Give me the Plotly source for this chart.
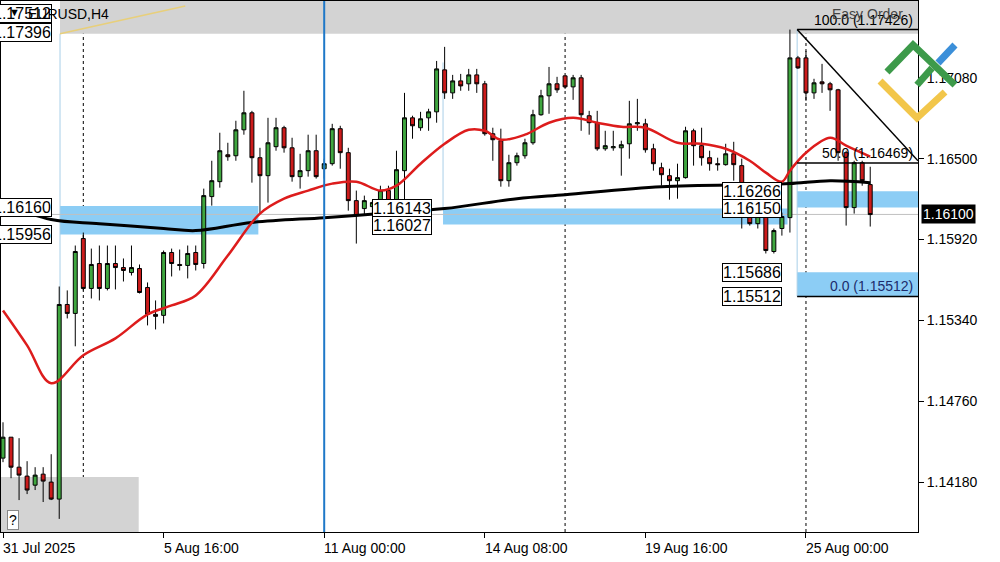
import plotly.graph_objects as go

# ---------------- data ----------------
opens = [1.14352,1.14502,1.14287,1.14223,1.14158,1.14237,1.14180,1.14058,1.15454,1.15390,
         1.15927,1.15569,1.15748,1.15569,1.15748,1.15719,1.15683,1.15712,1.15576,1.15383,
         1.15376,1.15827,1.15741,1.15734,1.15827,1.15748,1.16228,1.16335,1.16528,1.16521,
         1.16707,1.16829,1.16507,1.16378,1.16586,1.16722,1.16578,1.16371,1.16414,1.16557,
         1.16428,1.16464,1.16715,1.16543,1.16199,1.16142,1.16156,1.16149,1.16271,1.16149,
         1.16414,1.16793,1.16722,1.16793,1.16836,1.17137,1.16972,1.17058,1.17037,1.17101,
         1.17037,1.16679,1.16629,1.16342,1.16471,1.16521,1.16614,1.16815,1.16951,1.17037,
         1.17094,1.17015,1.17080,1.16808,1.16758,1.16571,1.16578,1.16578,1.16607,1.16750,
         1.16750,1.16571,1.16435,1.16378,1.16342,1.16364,1.16700,1.16593,1.16507,1.16464,
         1.16457,1.16535,1.16450,1.16113,1.16034,1.16106,1.15834,1.15999,1.16077,1.17223,
         1.17223,1.16972,1.17051,1.17037,1.16994,1.16543,1.16149,1.16471,1.16314]
highs = [1.14609,1.14502,1.14495,1.14330,1.14287,1.14287,1.14380,1.15583,1.15555,1.15877,
         1.15970,1.15855,1.15877,1.15877,1.15877,1.15784,1.15877,1.15741,1.15612,1.15483,
         1.15841,1.15855,1.15848,1.15877,1.15877,1.16285,1.16485,1.16686,1.16614,1.16772,
         1.16987,1.16843,1.16578,1.16793,1.16793,1.16736,1.16650,1.16535,1.16672,1.16672,
         1.16500,1.16750,1.16736,1.16578,1.16271,1.16235,1.16199,1.16306,1.16306,1.16557,
         1.16972,1.16808,1.16836,1.16858,1.17201,1.17302,1.17101,1.17108,1.17144,1.17144,
         1.17058,1.16722,1.16715,1.16528,1.16543,1.16643,1.16851,1.16994,1.17158,1.17087,
         1.17094,1.17101,1.17101,1.16843,1.16843,1.16700,1.16700,1.16629,1.16915,1.16929,
         1.16786,1.16607,1.16471,1.16428,1.16464,1.16729,1.16715,1.16722,1.16557,1.16507,
         1.16607,1.16621,1.16500,1.16142,1.16163,1.16113,1.15999,1.16113,1.17426,1.17237,
         1.17273,1.17073,1.17180,1.17051,1.17001,1.16557,1.16485,1.16485,1.16442]
lows = [1.14323,1.14208,1.14051,1.14094,1.14123,1.14037,1.14051,1.13916,1.15354,1.15154,
        1.15555,1.15497,1.15483,1.15555,1.15562,1.15619,1.15662,1.15533,1.15304,1.15275,
        1.15318,1.15655,1.15698,1.15641,1.15698,1.15712,1.16163,1.16292,1.16485,1.16485,
        1.16672,1.16328,1.16106,1.16185,1.16557,1.16543,1.16335,1.16285,1.16371,1.16357,
        1.16357,1.16450,1.16428,1.16127,1.15891,1.16092,1.16092,1.16127,1.16092,1.16127,
        1.16199,1.16643,1.16700,1.16700,1.16758,1.16929,1.16929,1.16987,1.16987,1.16972,
        1.16665,1.16485,1.16299,1.16299,1.16450,1.16500,1.16600,1.16808,1.16822,1.16972,
        1.17001,1.16922,1.16700,1.16672,1.16557,1.16557,1.16557,1.16378,1.16500,1.16700,
        1.16543,1.16414,1.16306,1.16206,1.16213,1.16357,1.16450,1.16450,1.16414,1.16414,
        1.16450,1.16342,1.15999,1.16020,1.15999,1.15820,1.15820,1.15948,1.15970,1.17144,
        1.16915,1.16929,1.16972,1.16843,1.16485,1.16020,1.16106,1.16306,1.16013]
closes = [1.14502,1.14287,1.14230,1.14123,1.14230,1.14187,1.14058,1.15454,1.15390,1.15834,
          1.15569,1.15741,1.15569,1.15748,1.15719,1.15698,1.15719,1.15540,1.15383,1.15369,
          1.15827,1.15748,1.15734,1.15820,1.15741,1.16235,1.16342,1.16557,1.16514,1.16707,
          1.16829,1.16507,1.16378,1.16614,1.16722,1.16578,1.16371,1.16414,1.16557,1.16371,
          1.16464,1.16715,1.16543,1.16199,1.16092,1.16199,1.16185,1.16271,1.16142,1.16421,
          1.16793,1.16736,1.16786,1.16836,1.17144,1.16972,1.17058,1.17022,1.17101,1.17037,
          1.16679,1.16636,1.16342,1.16471,1.16521,1.16614,1.16815,1.16951,1.17037,1.16994,
          1.17015,1.17080,1.16815,1.16758,1.16571,1.16593,1.16586,1.16600,1.16750,1.16758,
          1.16564,1.16464,1.16385,1.16342,1.16364,1.16700,1.16593,1.16507,1.16464,1.16457,
          1.16535,1.16457,1.16113,1.16034,1.16142,1.15841,1.15984,1.16085,1.17223,1.17151,
          1.16972,1.17044,1.17037,1.16994,1.16543,1.16149,1.16471,1.16342,1.16099]
bars = list(range(len(opens)))

ma_fast_idx = [0,3,6,10,14,18,21,24,28,32,35,38,41,44,47,49,52,55,58,60,62,65,68,71,74,77,80,84,87,90,93,95,97,98,100,103,105,108]
ma_fast_val = [1.15411,1.15161,1.14889,1.15090,1.15211,1.15383,1.15447,1.15519,1.15805,1.16106,1.16213,1.16271,
               1.16321,1.16335,1.16271,1.16306,1.16464,1.16607,1.16707,1.16700,1.16636,1.16672,1.16758,1.16793,
               1.16758,1.16729,1.16722,1.16614,1.16607,1.16571,1.16485,1.16400,1.16335,1.16414,1.16543,1.16650,
               1.16593,1.16514]
ma_slow_idx = [-0.3,6,12,20,24,31,40,47,55,64,70,82,94,98,103,108]
ma_slow_val = [1.16185,1.16063,1.16034,1.15999,1.15984,1.16042,1.16077,1.16106,1.16142,1.16213,1.16242,
               1.16299,1.16314,1.16321,1.16342,1.16328]

y_tickvals = [1.17080, 1.16500, 1.15920, 1.15340, 1.14760, 1.14180]
x_tickvals = [0, 20, 40, 60, 80, 100]
x_ticktext = ["31 Jul 2025", "5 Aug 16:00", "11 Aug 00:00", "14 Aug 08:00", "19 Aug 16:00", "25 Aug 00:00"]

fib_start = 98.9
fib_levels = [1.17426, 1.16469, 1.15512]
fib_text = ["100.0 (1.17426)", "50.0 (1.16469)", "0.0 (1.15512)"]
last_price = 1.16100

XMIN, XMAX = -0.25, 113.95
YMIN, YMAX = 1.13822, 1.17631
FONT = "Liberation Sans, Arial, sans-serif"

fig = go.Figure()
fig.add_trace(go.Candlestick(
    x=bars, open=opens, high=highs, low=lows, close=closes,
    increasing=dict(line=dict(color="black", width=1), fillcolor="#3fa63f"),
    decreasing=dict(line=dict(color="black", width=1), fillcolor="#cc1b1b"),
    whiskerwidth=0, showlegend=False, hoverinfo="skip"))
fig.add_trace(go.Scatter(x=ma_slow_idx, y=ma_slow_val, mode="lines", line=dict(color="black", width=3, shape="spline"), showlegend=False))
fig.add_trace(go.Scatter(x=ma_fast_idx, y=ma_fast_val, mode="lines", line=dict(color="#dd1c1c", width=2.5, shape="spline"), showlegend=False))

shapes = []
def rect(x0, x1, y0, y1, color, layer="below"):
    shapes.append(dict(type="rect", x0=x0, x1=x1, y0=y0, y1=y1, fillcolor=color, line=dict(width=0), layer=layer))
rect(7.1, XMAX, 1.17396, YMAX + 0.001, "#d3d3d3")
rect(XMIN, 16.9, YMIN - 0.001, 1.14216, "#d3d3d3")
blue = "#8ccdf5"
rect(7.1, 31.8, 1.15956, 1.16160, blue)
rect(54.8, 97.7, 1.16027, 1.16143, blue)
rect(fib_start, XMAX, 1.16150, 1.16266, blue)
rect(fib_start, XMAX, 1.15512, 1.15686, blue)
for xv, ya, yb in [(7.1, 1.17396, 1.14100), (54.8, 1.17190, 1.16143), (fib_start, 1.17426, 1.15512)]:
    shapes.append(dict(type="line", x0=xv, x1=xv, y0=ya, y1=yb, line=dict(color="#a9cfe8", width=1), layer="below"))
shapes.append(dict(type="line", x0=7.1, x1=22.7, y0=1.17396, y1=1.17595, line=dict(color="#e8cf7a", width=1.5)))
shapes.append(dict(type="line", x0=XMIN, x1=XMAX, y0=last_price, y1=last_price, line=dict(color="#c0c0c0", width=1), layer="below"))
for xv in [10, 70, 100]:
    shapes.append(dict(type="line", x0=xv, x1=xv, yref="paper", y0=0, y1=1, line=dict(color="black", width=1, dash="dot"), layer="below"))
shapes.append(dict(type="line", x0=40, x1=40, yref="paper", y0=0, y1=1, line=dict(color="#1f78c8", width=2)))
for lv in fib_levels:
    shapes.append(dict(type="line", x0=fib_start, x1=XMAX, y0=lv, y1=lv, line=dict(color="black", width=1.5)))
shapes.append(dict(type="line", x0=fib_start, x1=XMAX, y0=fib_levels[0], y1=1.16485, line=dict(color="black", width=1.5)))
def path(pts):
    return "M " + " L ".join(f"{a},{b}" for a, b in pts)
for pts, col in [([(0.9586, 0.8493), (0.9989, 0.7797), (1.0295, 0.8286)], "#f2c64a"),
                 ([(0.9662, 0.8663), (0.9946, 0.9171), (1.0403, 0.8418)], "#3d9a4a"),
                 ([(0.9989, 0.8418), (1.0153, 0.8738)], "#3d9a4a"),
                 ([(1.0218, 0.8832), (1.0403, 0.9171)], "#3b8fd9")]:
    shapes.append(dict(type="path", xref="paper", yref="paper", path=path(pts), line=dict(color=col, width=7)))

ann = []
def box(x, y, text, xanchor="center"):
    ann.append(dict(x=x, y=y, text=text, showarrow=False, xanchor=xanchor, yanchor="middle",
                    bgcolor="white", bordercolor="black", borderwidth=1, borderpad=0,
                    font=dict(family=FONT, size=16, color="black")))
box(49.7, 1.16142, "1.16143")
box(49.7, 1.16020, "1.16027")
box(93.3, 1.16264, "1.16266")
box(93.3, 1.16142, "1.16150")
box(93.3, 1.15683, "1.15686")
box(93.3, 1.15512, "1.15512")
box(6.1, 1.17538, "1.17512", "right")
box(6.1, 1.17402, "1.17396", "right")
box(6.1, 1.16149, "1.16160", "right")
box(6.1, 1.15956, "1.15956", "right")
for lv, t, c in zip(fib_levels, fib_text, ["black", "black", "#1c2c6c"]):
    ann.append(dict(x=XMAX, y=lv, text=t, showarrow=False, xanchor="right", yanchor="bottom", xshift=-3,
                    font=dict(family=FONT, size=14, color=c)))
ann.append(dict(xref="paper", yref="paper", x=0.945, y=0.995, text="Easy Order", showarrow=False,
                xanchor="center", yanchor="top", font=dict(family=FONT, size=14, color="#444")))
ann.append(dict(xref="paper", yref="paper", x=0.027, y=0.995, text="EURUSD,H4", showarrow=False,
                xanchor="left", yanchor="top", font=dict(family=FONT, size=14, color="black")))
ann.append(dict(xref="paper", yref="paper", x=0.006, y=0.995, text="▼", showarrow=False,
                xanchor="left", yanchor="top", font=dict(family=FONT, size=11, color="black")))
ann.append(dict(xref="paper", yref="paper", x=0.007, y=0.003, text="?", showarrow=False,
                xanchor="left", yanchor="bottom", bgcolor="white", bordercolor="#888", borderwidth=1,
                font=dict(family=FONT, size=14, color="black")))
for xv, t in zip(x_tickvals, x_ticktext):
    ann.append(dict(x=xv, xref="x", yref="paper", y=0, text=t, showarrow=False, xanchor="left",
                    yanchor="top", yshift=-6, xshift=-2, font=dict(family=FONT, size=14, color="black")))
ann.append(dict(xref="paper", x=1, y=last_price, text="1.16100", showarrow=False, xanchor="left", xshift=3,
                bgcolor="black", font=dict(family=FONT, size=14, color="white"), borderpad=1))

fig.update_layout(
    width=1000, height=562, autosize=False,
    margin=dict(l=1, r=82, t=1, b=30),
    paper_bgcolor="white", plot_bgcolor="white",
    shapes=shapes, annotations=ann,
    xaxis=dict(range=[XMIN, XMAX], showgrid=False, zeroline=False, rangeslider=dict(visible=False),
               tickvals=x_tickvals, showticklabels=False, ticks="outside", ticklen=5, tickcolor="black",
               showline=True, linecolor="black", mirror=True),
    yaxis=dict(range=[YMIN, YMAX], side="right", showgrid=False, zeroline=False,
               tickvals=y_tickvals, ticktext=[f"{v:.5f}" for v in y_tickvals],
               ticks="outside", ticklen=5, tickcolor="black",
               tickfont=dict(family=FONT, size=14, color="black"),
               showline=True, linecolor="black", mirror=True),
)
fig.write_html("out.html", config={"displayModeBar": False},
               post_script="document.body.style.margin='0';document.body.style.overflow='hidden';")
